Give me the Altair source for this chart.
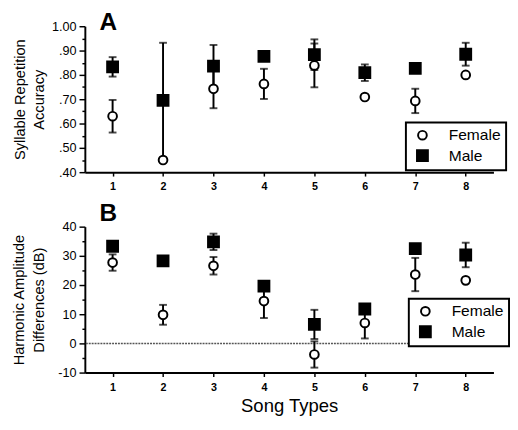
import altair as alt
import pandas as pd

FONT = "Liberation Sans"

types = [1, 2, 3, 4, 5, 6, 7, 8]

# Panel A: syllable repetition accuracy
acc_female = [0.630, 0.450, 0.743, 0.763, 0.839, 0.709, 0.693, 0.800]
acc_female_err = [0.067, None, 0.080, 0.062, 0.090, None, 0.050, None]
acc_male = [0.833, 0.695, 0.836, 0.876, 0.883, 0.809, 0.827, 0.885]
acc_male_err = [0.040, 0.237, 0.087, None, 0.063, 0.034, None, 0.047]

# Panel B: harmonic amplitude differences (dB)
ham_female = [27.7, 9.8, 26.6, 14.5, -3.8, 7.0, 23.6, 21.6]
ham_female_err = [2.8, 3.4, 3.0, 5.8, 4.5, 5.3, 5.7, None]
ham_male = [33.3, 28.3, 34.8, 19.6, 6.5, 11.8, 32.5, 30.3]
ham_male_err = [None, None, 2.8, None, 5.0, None, None, 4.2]

acc_ticks = [0.40, 0.45, 0.50, 0.55, 0.60, 0.65, 0.70, 0.75, 0.80, 0.85, 0.90, 0.95, 1.00]
ham_ticks = [-10, -5, 0, 5, 10, 15, 20, 25, 30, 35, 40]


def long_df(f, fe, m, me):
    rows = []
    for t, v, e in zip(types, f, fe):
        rows.append({"type": t, "sex": "Female", "value": v, "err": e})
    for t, v, e in zip(types, m, me):
        rows.append({"type": t, "sex": "Male", "value": v, "err": e})
    df = pd.DataFrame(rows)
    df["err"] = pd.to_numeric(df["err"])
    df["lo"] = df["value"] - df["err"]
    df["hi"] = df["value"] + df["err"]
    return df


def panel(df, ydom, yticks, label_expr, minor_test, ytitle, letter, legx, legy,
          xtitle, zero_line, title_pad):
    xaxis_kw = dict(values=types, format="d", tickSize=4, tickWidth=1.5, tickColor="black",
                    labelFont=FONT, labelFontSize=11, labelFontWeight="bold", labelColor="black",
                    labelPadding=5, domainColor="black", domainWidth=2, grid=False,
                    titleFont=FONT, titleFontSize=19, titleFontWeight="normal", titleColor="black",
                    titlePadding=5)
    if xtitle:
        xaxis = alt.Axis(title=xtitle, **xaxis_kw)
    else:
        xaxis = alt.Axis(title=None, **xaxis_kw)
    xs = alt.Scale(domain=[0.45, 8.55], nice=False, zero=False)
    X = alt.X("type:Q", scale=xs, axis=xaxis)

    yaxis = alt.Axis(values=yticks, labelExpr=label_expr,
                     tickSize={"condition": {"test": minor_test, "value": 3}, "value": 6},
                     tickWidth=1.5, tickColor="black",
                     title=ytitle, titleFont=FONT, titleFontSize=15, titleFontWeight="normal",
                     titleColor="black", titlePadding=title_pad, titleLineHeight=20,
                     labelFont=FONT, labelFontSize=13, labelColor="black", labelPadding=3,
                     domainColor="black", domainWidth=2, grid=False)
    ys = alt.Scale(domain=ydom, nice=False, zero=False)

    def Y(field):
        return alt.Y(f"{field}:Q", scale=ys, axis=yaxis)

    layers = []
    if zero_line:
        layers.append(
            alt.Chart(pd.DataFrame({"value": [0]}))
            .mark_rule(color="#555555", strokeDash=[2, 1], strokeWidth=1.5)
            .encode(y=Y("value"))
        )
    eb = df.dropna(subset=["err"])
    layers.append(
        alt.Chart(eb).mark_rule(color="black", strokeWidth=2)
        .encode(x=X, y=Y("lo"), y2="hi:Q")
    )
    layers.append(
        alt.Chart(eb).mark_tick(color="black", orient="horizontal", size=8, thickness=2)
        .encode(x=X, y=Y("lo"))
    )
    layers.append(
        alt.Chart(eb).mark_tick(color="black", orient="horizontal", size=8, thickness=2)
        .encode(x=X, y=Y("hi"))
    )
    leg = alt.Legend(orient="none", legendX=legx, legendY=legy, title=None)
    dom = ["Female", "Male"]
    layers.append(
        alt.Chart(df).mark_point(filled=True, strokeWidth=2, opacity=1)
        .encode(
            x=X,
            y=Y("value"),
            shape=alt.Shape("sex:N", scale=alt.Scale(domain=dom, range=["circle", "square"]), legend=leg),
            fill=alt.Fill("sex:N", scale=alt.Scale(domain=dom, range=["white", "black"]), legend=leg),
            stroke=alt.Stroke("sex:N", scale=alt.Scale(domain=dom, range=["black", "black"]), legend=leg),
            size=alt.Size("sex:N", scale=alt.Scale(domain=dom, range=[80, 125]), legend=leg),
        )
    )
    layers.append(
        alt.Chart(pd.DataFrame({"t": [letter]}))
        .mark_text(font=FONT, fontSize=25, fontWeight="bold", align="left", baseline="alphabetic", color="black")
        .encode(text="t:N", x=alt.value(15), y=alt.value(4 if letter == "A" else -6))
    )
    return alt.layer(*layers).properties(width=420, height=150)


dfA = long_df(acc_female, acc_female_err, acc_male, acc_male_err)
dfB = long_df(ham_female, ham_female_err, ham_male, ham_male_err)

labelA = ("round(datum.value*100) % 10 != 0 ? '' : "
          "(datum.value >= 1 ? '1.00' : slice(format(datum.value, '.2f'), 1))")
labelB = "datum.value % 10 != 0 ? '' : '' + datum.value"

pA = panel(dfA, [0.4, 1.0], acc_ticks, labelA, "round(datum.value*100) % 10 != 0",
           ["Syllable Repetition", "Accuracy"], "A", 330, 99, None, False, 5)
pB = panel(dfB, [-10, 40], ham_ticks, labelB, "datum.value % 10 != 0",
           ["Harmonic Amplitude", "Differences (dB)"], "B", 333, 74, "Song Types", True, 12)

chart = (
    alt.vconcat(pA, pB, spacing=10)
    .resolve_scale(shape="independent", fill="independent", size="independent", stroke="independent")
    .resolve_legend(shape="independent", fill="independent", size="independent", stroke="independent")
    .properties(padding={"left": 4, "top": -3, "right": 0, "bottom": 0})
    .configure_view(stroke=None)
    .configure_legend(strokeColor="black", strokeWidth=2, padding=5, labelFont=FONT,
                      labelFontSize=16, labelColor="black",
                      symbolStrokeWidth=2, symbolOffset=4,
                      labelOffset=19, rowPadding=2, fillColor="white")
)

chart.save("out.html", embed_options={"renderer": "svg", "actions": False})
